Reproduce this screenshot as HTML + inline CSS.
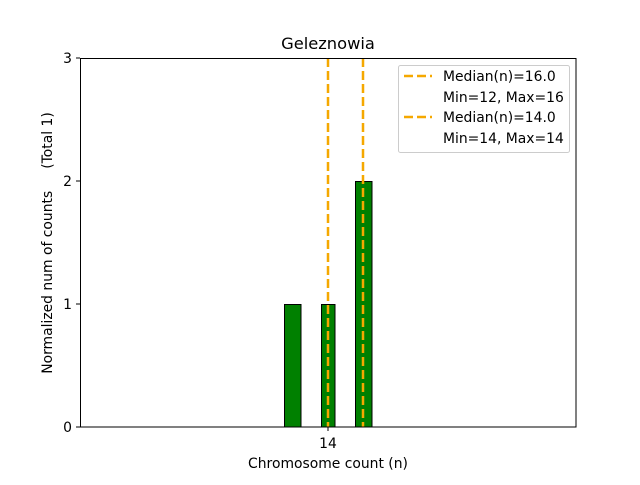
<!DOCTYPE html>
<html><head><style>body{margin:0;background:#fff}</style></head><body>
<svg width="640" height="480" xmlns="http://www.w3.org/2000/svg" font-family="'DejaVu Sans', sans-serif">
<rect width="640" height="480" fill="#fff"/>
<line x1="80" y1="427" x2="425" y2="427" stroke="#555" stroke-width="1"/>
<g fill="#008000" stroke="#000" stroke-width="1">
<rect x="284.5" y="304.5" width="16.5" height="122.5"/>
<rect x="321.5" y="304.5" width="13.5" height="122.5"/>
<rect x="355.5" y="181.5" width="16.5" height="245.5"/>
</g>
<g stroke="#f5a800" stroke-width="2.5" stroke-dasharray="9,4">
<line x1="328" y1="58" x2="328" y2="427"/>
<line x1="363" y1="58" x2="363" y2="427"/>
</g>
<rect x="80.5" y="58.5" width="495.5" height="368.5" fill="none" stroke="#000" stroke-width="1"/>
<g stroke="#000"><line x1="80" y1="427" x2="76" y2="427"/><line x1="80" y1="304" x2="76" y2="304"/><line x1="80" y1="181" x2="76" y2="181"/><line x1="80" y1="58" x2="76" y2="58"/><line x1="328" y1="427" x2="328" y2="431"/></g>
<g font-size="13.9" text-anchor="end"><text x="72" y="432">0</text><text x="72" y="309">1</text><text x="72" y="186">2</text><text x="72" y="63">3</text></g>
<text x="328" y="448" font-size="13.9" text-anchor="middle">14</text>
<text x="328" y="468" font-size="13.9" text-anchor="middle">Chromosome count (n)</text>
<text x="328" y="49" font-size="16.3" text-anchor="middle">Geleznowia</text>
<text transform="translate(52,243) rotate(-90)" font-size="13.9" text-anchor="middle" xml:space="preserve">Normalized num of counts     (Total 1)</text>
<rect x="398.5" y="65.5" width="171" height="87" rx="2" fill="#fff" fill-opacity="0.8" stroke="#ccc"/>
<g stroke="#f5a800" stroke-width="2.5" stroke-dasharray="9,4"><line x1="404" y1="76" x2="432" y2="76"/><line x1="404" y1="117" x2="432" y2="117"/></g>
<g font-size="13.9"><text x="443" y="81">Median(n)=16.0</text><text x="443" y="102">Min=12, Max=16</text><text x="443" y="122">Median(n)=14.0</text><text x="443" y="143">Min=14, Max=14</text></g>
</svg>
</body></html>
